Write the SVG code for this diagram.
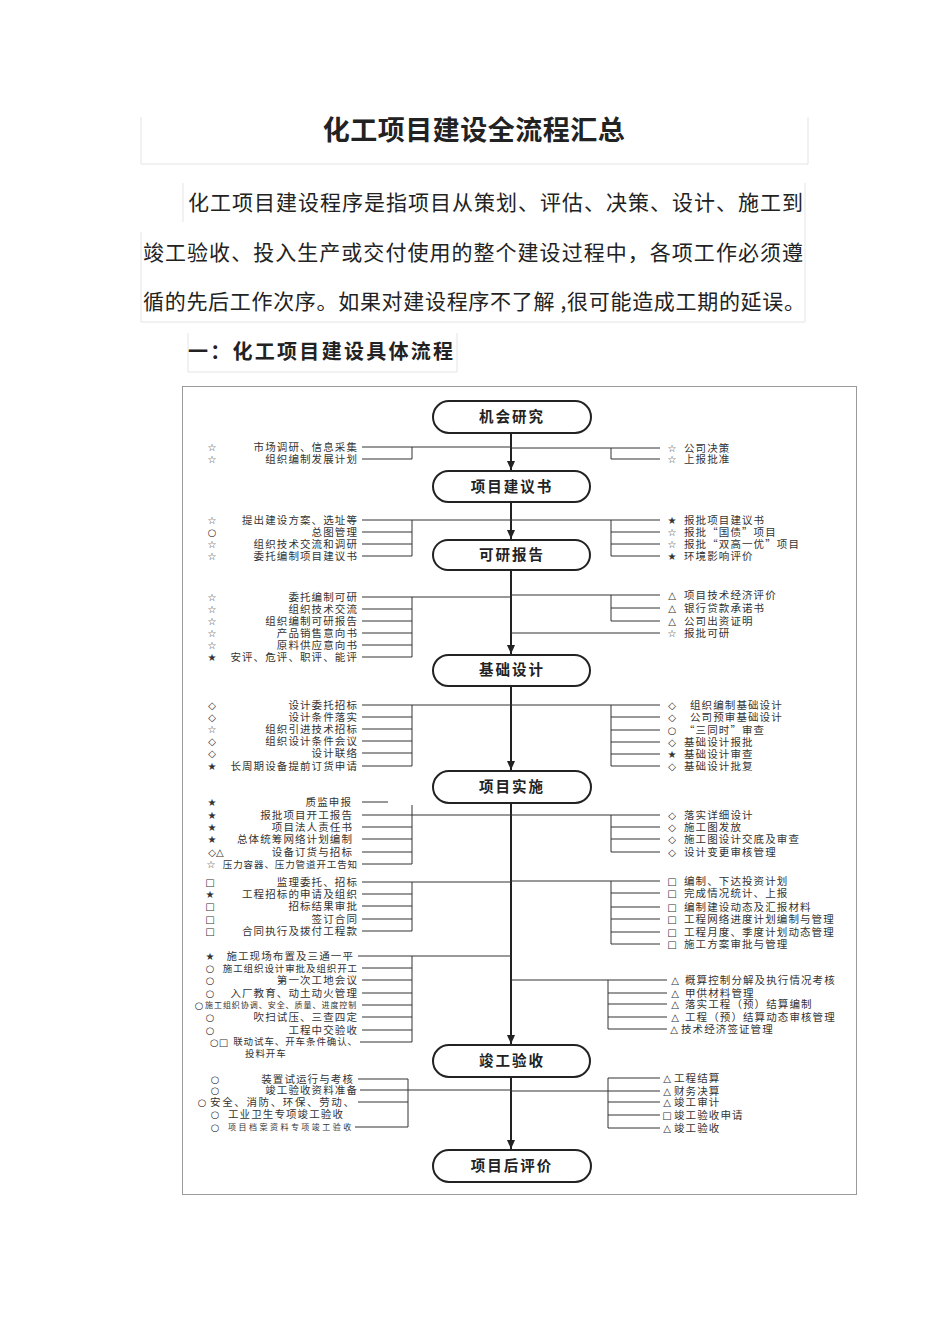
<svg xmlns="http://www.w3.org/2000/svg" width="950" height="1344" viewBox="0 0 950 1344">
<defs>
<style>
.title{font-family:"Noto Sans CJK SC","Noto Sans",sans-serif;font-size:27px;font-weight:bold;fill:#222;letter-spacing:0.5px}
.para{font-family:"Noto Sans CJK SC","Noto Sans",sans-serif;font-size:21px;fill:#222}
.head{font-family:"Noto Sans CJK SC","Noto Sans",sans-serif;font-size:20px;font-weight:bold;fill:#222}
.faint{fill:none;stroke:#e4e4e4;stroke-width:1}
.frame{fill:#fff;stroke:#9a9a9a;stroke-width:1}
.box{fill:#fff;stroke:#222;stroke-width:2}
.bt{font-family:"Noto Sans CJK SC",sans-serif;font-size:14.5px;font-weight:bold;fill:#222;letter-spacing:2px;text-anchor:middle}
.t{font-family:"Noto Sans CJK SC",sans-serif;font-size:10.5px;letter-spacing:1.1px;fill:#333}
.ts{font-family:"Noto Sans CJK SC",sans-serif;font-size:9.5px;letter-spacing:0.9px;fill:#333}
.tx{font-family:"Noto Sans CJK SC",sans-serif;font-size:8px;letter-spacing:0.7px;fill:#333}
.L{text-anchor:end}
.sym{font-family:"DejaVu Sans",sans-serif;font-size:10px;fill:#333;text-anchor:middle}
.ln{fill:none;stroke:#333;stroke-width:1}
.sp{fill:none;stroke:#222;stroke-width:2}
</style>
<marker id="arr" markerUnits="userSpaceOnUse" markerWidth="10" markerHeight="10" refX="9" refY="5" orient="auto">
<path d="M0,1 L9,5 L0,9 z" fill="#222"/>
</marker>
</defs>
<rect width="950" height="1344" fill="#fff"/>

<g id="header">
<path class="faint" d="M141,117 V164 H808 V117"/>
<path class="faint" d="M183,183 V222 M141,232 V322 H805 V183"/>
<path class="faint" d="M188,333 V372 H457 V333"/>
<text class="title" x="474" y="140" text-anchor="middle">化工项目建设全流程汇总</text>
<text class="para" x="188" y="210" textLength="615" lengthAdjust="spacing">化工项目建设程序是指项目从策划、评估、决策、设计、施工到</text>
<text class="para" x="143" y="260" textLength="660" lengthAdjust="spacing">竣工验收、投入生产或交付使用的整个建设过程中，各项工作必须遵</text>
<text class="para" x="143" y="309" textLength="662" lengthAdjust="spacing">循的先后工作次序。如果对建设程序不了解 ,很可能造成工期的延误。</text>
<text class="head" x="188" y="359" textLength="265" lengthAdjust="spacing">一：化工项目建设具体流程</text>
</g>

<rect class="frame" x="182.5" y="386.5" width="674" height="808"/>

<g id="connectors">
<path class="sp" d="M511,433 V470" marker-end="url(#arr)"/>
<path class="sp" d="M511,502 V539" marker-end="url(#arr)"/>
<path class="sp" d="M511,570 V654" marker-end="url(#arr)"/>
<path class="sp" d="M511,686 V770" marker-end="url(#arr)"/>
<path class="sp" d="M511,803 V1044" marker-end="url(#arr)"/>
<path class="sp" d="M511,1077 V1149" marker-end="url(#arr)"/>
<path class="ln" d="M362,447 H511 M362,459 H412 M412,447 V459"/>
<path class="ln" d="M511,448 H660 M611,459 H660 M611,448 V459"/>
<path class="ln" d="M362,520 H511 M362,532 H412 M362,544 H412 M362,556 H412 M412,520 V556"/>
<path class="ln" d="M511,520 H660 M611,532 H660 M611,544 H660 M611,556 H660 M611,520 V556"/>
<path class="ln" d="M362,597 H511 M362,609 H412 M362,621 H412 M362,633 H412 M362,645 H412 M362,657 H412 M412,597 V657"/>
<path class="ln" d="M511,595 H660 M611,608 H660 M611,621 H660 M611,595 V621 M511,633 H660"/>
<path class="ln" d="M362,705 H511 M362,717 H412 M362,729 H412 M362,741 H412 M362,753 H412 M362,766 H412 M412,705 V766"/>
<path class="ln" d="M511,705 H660 M611,717 H660 M611,730 H660 M611,742 H660 M611,754 H660 M611,766 H660 M611,705 V766"/>
<path class="ln" d="M362,802 H388 M362,815 H511 M362,827 H412 M362,839 H412 M362,852 H412 M362,864 H412 M412,805 V864"/>
<path class="ln" d="M511,815 H660 M611,827 H660 M611,839 H660 M611,852 H660 M611,815 V852"/>
<path class="ln" d="M362,882 H511 M362,894 H412 M362,906 H412 M362,919 H412 M362,931 H412 M412,882 V931"/>
<path class="ln" d="M511,881 H660 M611,893 H660 M611,907 H660 M611,919 H660 M611,932 H660 M611,944 H660 M611,881 V944"/>
<path class="ln" d="M358,956 H511 M362,968 H412 M362,980 H412 M362,993 H412 M362,1005 H412 M362,1017 H412 M362,1030 H412 M360,1042 H412 M412,956 V1042"/>
<path class="ln" d="M511,980 H667 M608,993 H667 M608,1004 H667 M608,1017 H667 M608,1029 H667 M608,980 V1029"/>
<path class="ln" d="M358,1079 H408 M360,1090 H511 M358,1102 H408 M355,1127 H408 M408,1079 V1127"/>
<path class="ln" d="M608,1078 H660 M511,1091 H660 M608,1102 H660 M608,1115 H660 M608,1128 H660 M608,1078 V1128"/>
</g>

<g id="node-jihui"><rect class="box" x="433" y="401" width="158" height="32" rx="16"/><text class="bt" x="512" y="422">机会研究</text></g>
<g id="node-jianyishu"><rect class="box" x="433" y="471" width="157" height="31" rx="15.5"/><text class="bt" x="512" y="492">项目建议书</text></g>
<g id="node-keyan"><rect class="box" x="433" y="540" width="157" height="30" rx="15"/><text class="bt" x="512" y="560">可研报告</text></g>
<g id="node-jichu"><rect class="box" x="433" y="655" width="157" height="31" rx="15.5"/><text class="bt" x="512" y="675">基础设计</text></g>
<g id="node-shishi"><rect class="box" x="433" y="771" width="158" height="32" rx="16"/><text class="bt" x="512" y="792">项目实施</text></g>
<g id="node-jungong"><rect class="box" x="433" y="1045" width="157" height="32" rx="16"/><text class="bt" x="512" y="1066">竣工验收</text></g>
<g id="node-houpingjia"><rect class="box" x="433" y="1150" width="158" height="32" rx="16"/><text class="bt" x="512" y="1171">项目后评价</text></g>

<g id="left-1">
<text class="sym" x="212" y="451">☆</text><text class="t L" x="358" y="451">市场调研、信息采集</text>
<text class="sym" x="212" y="463">☆</text><text class="t L" x="358" y="463">组织编制发展计划</text>
</g>
<g id="right-1">
<text class="sym" x="672" y="452">☆</text><text class="t" x="684" y="452">公司决策</text>
<text class="sym" x="672" y="463">☆</text><text class="t" x="684" y="463">上报批准</text>
</g>

<g id="left-2">
<text class="sym" x="212" y="524">☆</text><text class="t L" x="358" y="524">提出建设方案、选址等</text>
<text class="sym" x="212" y="536">○</text><text class="t L" x="358" y="536">总图管理</text>
<text class="sym" x="212" y="548">☆</text><text class="t L" x="358" y="548">组织技术交流和调研</text>
<text class="sym" x="212" y="560">☆</text><text class="t L" x="358" y="560">委托编制项目建议书</text>
</g>
<g id="right-2">
<text class="sym" x="672" y="524">★</text><text class="t" x="684" y="524">报批项目建议书</text>
<text class="sym" x="672" y="536">☆</text><text class="t" x="684" y="536">报批“国债”项目</text>
<text class="sym" x="672" y="548">☆</text><text class="t" x="684" y="548">报批“双高一优”项目</text>
<text class="sym" x="672" y="560">★</text><text class="t" x="684" y="560">环境影响评价</text>
</g>

<g id="left-3">
<text class="sym" x="212" y="601">☆</text><text class="t L" x="358" y="601">委托编制可研</text>
<text class="sym" x="212" y="613">☆</text><text class="t L" x="358" y="613">组织技术交流</text>
<text class="sym" x="212" y="625">☆</text><text class="t L" x="358" y="625">组织编制可研报告</text>
<text class="sym" x="212" y="637">☆</text><text class="t L" x="358" y="637">产品销售意向书</text>
<text class="sym" x="212" y="649">☆</text><text class="t L" x="358" y="649">原料供应意向书</text>
<text class="sym" x="212" y="661">★</text><text class="t L" x="358" y="661">安评、危评、职评、能评</text>
</g>
<g id="right-3">
<text class="sym" x="672" y="599">△</text><text class="t" x="684" y="599">项目技术经济评价</text>
<text class="sym" x="672" y="612">△</text><text class="t" x="684" y="612">银行贷款承诺书</text>
<text class="sym" x="672" y="625">△</text><text class="t" x="684" y="625">公司出资证明</text>
<text class="sym" x="672" y="637">☆</text><text class="t" x="684" y="637">报批可研</text>
</g>

<g id="left-4">
<text class="sym" x="212" y="709">◇</text><text class="t L" x="358" y="709">设计委托招标</text>
<text class="sym" x="212" y="721">◇</text><text class="t L" x="358" y="721">设计条件落实</text>
<text class="sym" x="212" y="733">☆</text><text class="t L" x="358" y="733">组织引进技术招标</text>
<text class="sym" x="212" y="745">◇</text><text class="t L" x="358" y="745">组织设计条件会议</text>
<text class="sym" x="212" y="757">◇</text><text class="t L" x="358" y="757">设计联络</text>
<text class="sym" x="212" y="770">★</text><text class="t L" x="358" y="770">长周期设备提前订货申请</text>
</g>
<g id="right-4">
<text class="sym" x="672" y="709">◇</text><text class="t" x="690" y="709">组织编制基础设计</text>
<text class="sym" x="672" y="721">◇</text><text class="t" x="690" y="721">公司预审基础设计</text>
<text class="sym" x="672" y="734">○</text><text class="t" x="684" y="734">“三同时”审查</text>
<text class="sym" x="672" y="746">◇</text><text class="t" x="684" y="746">基础设计报批</text>
<text class="sym" x="672" y="758">★</text><text class="t" x="684" y="758">基础设计审查</text>
<text class="sym" x="672" y="770">◇</text><text class="t" x="684" y="770">基础设计批复</text>
</g>

<g id="left-5">
<text class="sym" x="212" y="806">★</text><text class="t L" x="352" y="806">质监申报</text>
<text class="sym" x="212" y="819">★</text><text class="t L" x="353" y="819">报批项目开工报告</text>
<text class="sym" x="212" y="831">★</text><text class="t L" x="353" y="831">项目法人责任书</text>
<text class="sym" x="212" y="843">★</text><text class="t L" x="353" y="843">总体统筹网络计划编制</text>
<text class="sym" x="216" y="856">◇△</text><text class="t L" x="353" y="856">设备订货与招标</text>
<text class="sym" x="211" y="868">☆</text><text class="ts L" x="358" y="868">压力容器、压力管道开工告知</text>
</g>
<g id="right-5">
<text class="sym" x="672" y="819">◇</text><text class="t" x="684" y="819">落实详细设计</text>
<text class="sym" x="672" y="831">◇</text><text class="t" x="684" y="831">施工图发放</text>
<text class="sym" x="672" y="843">◇</text><text class="t" x="684" y="843">施工图设计交底及审查</text>
<text class="sym" x="672" y="856">◇</text><text class="t" x="684" y="856">设计变更审核管理</text>
</g>

<g id="left-6">
<text class="sym" x="210" y="886">□</text><text class="t L" x="358" y="886">监理委托、招标</text>
<text class="sym" x="210" y="898">★</text><text class="t L" x="358" y="898">工程招标的申请及组织</text>
<text class="sym" x="210" y="910">□</text><text class="t L" x="358" y="910">招标结果审批</text>
<text class="sym" x="210" y="923">□</text><text class="t L" x="358" y="923">签订合同</text>
<text class="sym" x="210" y="935">□</text><text class="t L" x="358" y="935">合同执行及拨付工程款</text>
</g>
<g id="right-6">
<text class="sym" x="672" y="885">□</text><text class="t" x="684" y="885">编制、下达投资计划</text>
<text class="sym" x="672" y="897">□</text><text class="t" x="684" y="897">完成情况统计、上报</text>
<text class="sym" x="672" y="911">□</text><text class="t" x="684" y="911">编制建设动态及汇报材料</text>
<text class="sym" x="672" y="923">□</text><text class="t" x="684" y="923">工程网络进度计划编制与管理</text>
<text class="sym" x="672" y="936">□</text><text class="t" x="684" y="936">工程月度、季度计划动态管理</text>
<text class="sym" x="672" y="948">□</text><text class="t" x="684" y="948">施工方案审批与管理</text>
</g>

<g id="left-7">
<text class="sym" x="210" y="960">★</text><text class="t L" x="354" y="960">施工现场布置及三通一平</text>
<text class="sym" x="210" y="972">○</text><text class="ts L" x="358" y="972">施工组织设计审批及组织开工</text>
<text class="sym" x="210" y="984">○</text><text class="t L" x="358" y="984">第一次工地会议</text>
<text class="sym" x="210" y="997">○</text><text class="t L" x="358" y="997">入厂教育、动土动火管理</text>
<text class="sym" x="199" y="1009">○</text><text class="tx" x="205" y="1008" textLength="152" lengthAdjust="spacing">施工组织协调、安全、质量、进度控制</text>
<text class="sym" x="210" y="1021">○</text><text class="t L" x="358" y="1021">吹扫试压、三查四定</text>
<text class="sym" x="210" y="1034">○</text><text class="t L" x="358" y="1034">工程中交验收</text>
<text class="sym" x="219" y="1046">○□</text><text class="ts L" x="358" y="1045">联动试车、开车条件确认、</text>
<text class="ts" x="245" y="1057">投料开车</text>
</g>
<g id="right-7">
<text class="sym" x="675" y="984">△</text><text class="t" x="685" y="984">概算控制分解及执行情况考核</text>
<text class="sym" x="675" y="997">△</text><text class="t" x="685" y="997">甲供材料管理</text>
<text class="sym" x="675" y="1008">△</text><text class="t" x="685" y="1008">落实工程（预）结算编制</text>
<text class="sym" x="675" y="1021">△</text><text class="t" x="685" y="1021">工程（预）结算动态审核管理</text>
<text class="sym" x="674" y="1033">△</text><text class="t" x="681" y="1033">技术经济签证管理</text>
</g>

<g id="left-8">
<text class="sym" x="215" y="1083">○</text><text class="t L" x="354" y="1083">装置试运行与考核</text>
<text class="sym" x="215" y="1094">○</text><text class="t L" x="358" y="1094">竣工验收资料准备</text>
<text class="sym" x="202" y="1106">○</text><text class="t" x="210" y="1106" textLength="145" lengthAdjust="spacing">安全、消防、环保、劳动、</text>
<text class="sym" x="215" y="1118">○</text><text class="t" x="228" y="1118">工业卫生专项竣工验收</text>
<text class="sym" x="215" y="1131">○</text><text class="tx" x="228" y="1130" textLength="124" lengthAdjust="spacing">项目档案资料专项竣工验收</text>
</g>
<g id="right-8">
<text class="sym" x="667" y="1082">△</text><text class="t" x="674" y="1082">工程结算</text>
<text class="sym" x="667" y="1095">△</text><text class="t" x="674" y="1095">财务决算</text>
<text class="sym" x="667" y="1106">△</text><text class="t" x="674" y="1106">竣工审计</text>
<text class="sym" x="667" y="1119">□</text><text class="t" x="674" y="1119">竣工验收申请</text>
<text class="sym" x="667" y="1132">△</text><text class="t" x="674" y="1132">竣工验收</text>
</g>
</svg>
